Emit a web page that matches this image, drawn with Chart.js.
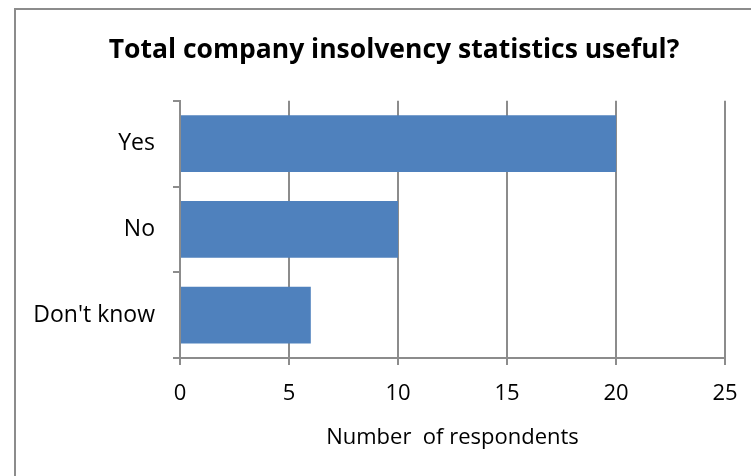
<!DOCTYPE html>
<html>
<head>
<meta charset="utf-8">
<script src="https://cdn.jsdelivr.net/npm/chart.js@4"></script>
<style>
  html, body { margin: 0; padding: 0; background: #fff; }
  #wrap { position: relative; width: 751px; height: 476px; }
</style>
</head>
<body>
<div id="wrap"><canvas id="chart" width="751" height="476"></canvas></div>
<script>
const categories = ["Yes", "No", "Don't know"];
const respondents = [20, 10, 6];
const xTicks = [0, 5, 10, 15, 20, 25];

const titleText = "Total company insolvency statistics useful?";
const axisTitle = "Number  of respondents";

const gridColor = "#8c8c8c";
const barColor = "#4f81bd";

// outer frame of the original chart box (only top and left edges are visible)
const framePlugin = {
  id: "frame",
  afterLayout(chart) {
    // the original title is centred a bit right of the canvas middle
    const tb = chart.titleBlock;
    if (tb) {
      tb.left = 37;
      tb.right = chart.width;
      tb.width = tb.right - tb.left;
    }
  },
  beforeDraw(chart) {
    const ctx = chart.ctx;
    ctx.save();
    ctx.fillStyle = "#fff";
    ctx.fillRect(0, 0, chart.width, chart.height);
    ctx.strokeStyle = gridColor;
    ctx.lineWidth = 2;
    ctx.beginPath();
    ctx.moveTo(15, chart.height);
    ctx.lineTo(15, 9);
    ctx.lineTo(chart.width, 9);
    ctx.stroke();
    ctx.restore();
  }
};

const ctx = document.getElementById("chart").getContext("2d");

new Chart(ctx, {
  type: "bar",
  data: {
    labels: categories,
    datasets: [{
      label: "Respondents",
      data: respondents,
      backgroundColor: barColor,
      borderWidth: 0,
      categoryPercentage: 1,
      barPercentage: 0.66
    }]
  },
  options: {
    indexAxis: "y",
    responsive: false,
    animation: false,
    layout: {
      padding: { left: 0, right: 26, top: 0, bottom: 0 }
    },
    scales: {
      x: {
        min: 0,
        max: 25,
        afterBuildTicks: scale => {
          scale.ticks = xTicks.map(v => ({ value: v }));
        },
        afterFit: scale => {
          scale.height = 118;
          scale.paddingLeft = 0;
          scale.paddingRight = 0;
        },
        grid: {
          color: gridColor,
          lineWidth: 2,
          tickLength: 7
        },
        border: { color: gridColor, width: 2 },
        ticks: {
          color: "#000",
          padding: 16,
          font: { family: "'Open Sans'", size: 22 }
        },
        title: {
          display: true,
          text: axisTitle,
          color: "#000",
          padding: { top: 0, bottom: 25 },
          font: { family: "'Open Sans'", size: 22 }
        }
      },
      y: {
        afterFit: scale => { scale.width = 180; },
        grid: {
          offset: true,
          drawOnChartArea: false,
          color: gridColor,
          lineWidth: 2,
          tickLength: 7
        },
        border: { color: gridColor, width: 2 },
        ticks: {
          color: "#000",
          padding: 18,
          font: { family: "'Open Sans'", size: 23 }
        }
      }
    },
    plugins: {
      legend: { display: false },
      tooltip: { enabled: false },
      title: {
        display: true,
        text: titleText,
        color: "#000",
        padding: { top: 35, bottom: 34 },
        font: { family: "'Open Sans'", size: 26.5, weight: "bold" }
      }
    }
  },
  plugins: [framePlugin]
});
</script>
</body>
</html>
